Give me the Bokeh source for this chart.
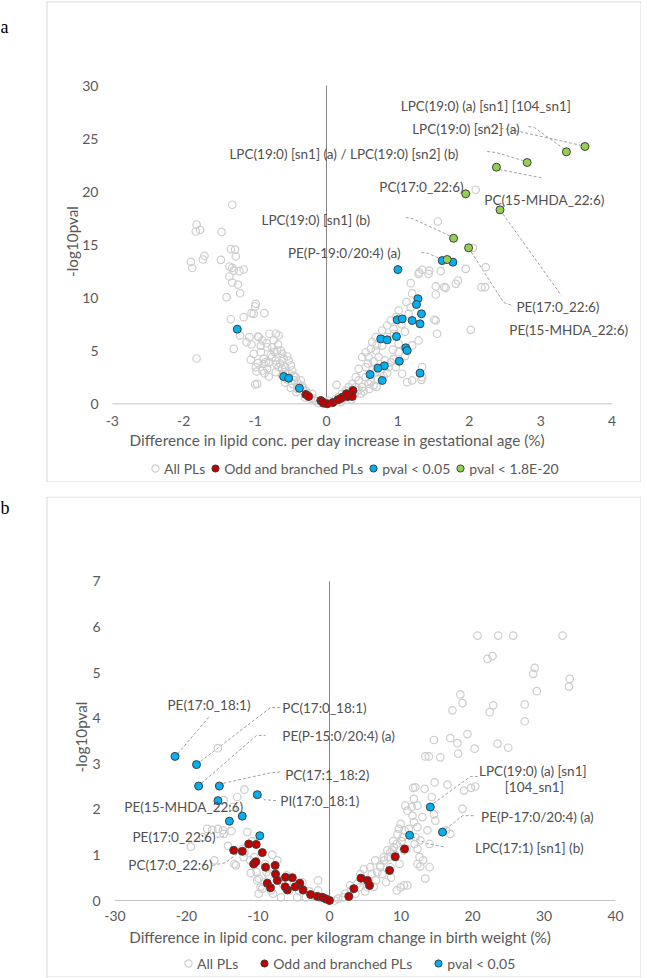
from bokeh.plotting import figure
from bokeh.models import (Range1d, FixedTicker, Legend, LegendItem, Spacer, Label,
                          BoxAnnotation, CustomJSTickFormatter)
from bokeh.layouts import column
from bokeh.core.properties import value
from bokeh.embed import file_html
from bokeh.resources import INLINE

FONT = "Lato"
TXT = "#595959"
LAB_TXT = "#505050"
GRAY_PT = "#cdcdcd"
EDGE = "#404040"
RED = "#c00000"
BLUE = "#00b0f0"
GREEN = "#92d050"
BOX = "#7f7f7f"

# ---------------- panel a ----------------
a_x_ticks = [-3, -2, -1, 0, 1, 2, 3, 4]
a_y_ticks = [0, 5, 10, 15, 20, 25, 30]
a_x_title = "Difference in lipid conc. per day increase in gestational age (%)"
a_series = ["All PLs", "Odd and branched PLs", "pval < 0.05", "pval < 1.8E-20"]

a_all = [
    (-1.32, 18.76), (-1.82, 16.90), (-1.83, 16.24), (-1.77, 16.40), (-1.47, 16.20), (-1.34, 14.57),
    (-1.28, 14.54), (-1.27, 13.88), (-1.71, 13.95), (-1.73, 13.60), (-1.90, 13.38), (-1.88, 12.80),
    (-1.48, 13.57), (-1.36, 12.94), (-1.32, 12.82), (-1.30, 12.56), (-1.22, 12.50), (-1.16, 12.66),
    (-1.36, 12.00), (-1.32, 11.43), (-1.24, 11.24), (-1.21, 10.42), (-1.40, 10.05), (-1.00, 9.17),
    (-1.05, 8.54), (-1.02, 8.48), (-0.87, 8.54), (-1.16, 8.16), (-1.34, 7.97), (-1.21, 6.44),
    (-1.08, 6.28), (-1.12, 5.81), (-1.05, 5.59), (-0.96, 6.34), (-0.90, 5.97), (-0.84, 5.71),
    (-0.80, 6.60), (-1.30, 5.18), (-1.82, 4.27), (-1.02, 4.71), (-1.06, 4.15), (-0.92, 4.86),
    (-0.88, 4.24), (-0.96, 3.83), (-0.88, 3.77), (-0.83, 3.30), (-0.98, 3.04), (-0.87, 2.89),
    (-1.00, 1.82), (-0.81, 3.89), (-0.99, 9.42), (-0.95, 6.28), (-0.71, 6.60), (-0.67, 6.44),
    (-0.92, 5.49), (-0.83, 5.33), (-0.76, 5.33), (-0.69, 5.02), (-0.64, 5.02), (-0.62, 4.71),
    (-0.55, 4.46), (-0.76, 4.39), (-0.85, 3.92), (-0.71, 4.08), (-0.60, 4.24), (-0.53, 4.08),
    (-0.67, 3.45), (-0.58, 3.45), (-0.50, 3.61), (-0.48, 3.14), (-0.71, 2.98), (-0.62, 2.67),
    (-0.43, 2.51), (-0.36, 2.20), (-0.48, 1.88), (-0.34, 1.72), (-0.41, 1.41), (-0.29, 1.25),
    (-0.20, 0.94), (-0.22, 0.47), (-0.15, 0.25), (-0.11, 0.06), (-0.99, 3.45), (-0.90, 3.14),
    (-0.81, 2.57), (-0.97, 1.88), (-0.65, 3.80), (-0.58, 3.00), (-0.52, 2.80), (-0.45, 2.20),
    (-0.40, 1.90), (-0.33, 1.50), (-0.27, 1.00), (-0.25, 0.70), (-0.18, 0.50), (-0.08, 0.30),
    (-0.05, 0.10), (-0.55, 2.30), (-0.62, 3.30), (-0.70, 3.70), (-0.78, 4.60), (-0.73, 4.90),
    (-0.68, 5.60), (-0.74, 6.00), (-0.58, 2.00), (-0.50, 1.50), (-0.42, 1.10), (-0.30, 0.60),
    (-0.46, 2.65), (-0.38, 1.60),
    (1.18, 11.37), (1.53, 11.06), (1.67, 10.93), (1.81, 11.31), (1.29, 12.25), (1.43, 12.25),
    (1.01, 8.79), (0.90, 7.85), (0.85, 7.38), (0.78, 6.91), (0.69, 6.28), (0.64, 5.81),
    (0.62, 5.18), (0.55, 4.86), (0.50, 4.39), (0.59, 4.39), (0.69, 5.02), (0.78, 5.49),
    (0.94, 7.07), (1.15, 8.48), (1.29, 5.97), (1.53, 7.85), (1.55, 6.60), (1.01, 5.65),
    (1.01, 4.86), (0.94, 4.24), (0.97, 3.45), (0.87, 3.45), (0.69, 2.98), (0.55, 3.45),
    (0.45, 3.30), (0.41, 2.51), (0.45, 2.20), (0.55, 2.51), (0.36, 1.88), (0.41, 1.57),
    (0.31, 1.57), (0.27, 1.25), (0.22, 0.94), (0.17, 0.63), (0.13, 0.47), (0.50, 1.57),
    (0.59, 1.88), (0.66, 1.72), (1.06, 2.83), (1.20, 2.20), (1.34, 2.51), (0.20, 0.15),
    (0.10, 0.15), (0.14, 1.79), (2.09, 20.17), (1.56, 17.18), (1.95, 12.72), (2.23, 12.88),
    (1.34, 12.63), (1.60, 12.50), (2.05, 14.70), (1.30, 12.40), (1.44, 12.56), (1.53, 10.30),
    (1.65, 10.99), (1.84, 11.62), (2.17, 10.99), (2.22, 10.99), (2.02, 6.97), (1.51, 7.92),
    (1.18, 9.10), (1.13, 2.04), (1.33, 2.26), (1.34, 3.45), (0.35, 1.20), (0.40, 0.90),
    (0.30, 0.80), (0.25, 0.50), (0.45, 1.30), (0.48, 0.95), (0.52, 1.20), (0.60, 1.40),
    (0.70, 1.60), (0.62, 2.10), (0.72, 2.30), (0.80, 2.60), (0.75, 3.00), (0.65, 3.20),
    (0.85, 2.90), (0.90, 3.90), (0.82, 4.10), (0.73, 4.40), (0.66, 4.00), (0.58, 3.80),
    (0.70, 5.50), (0.85, 6.30), (0.95, 6.60), (1.10, 6.80), (1.05, 7.50), (0.98, 8.20),
    (1.12, 9.60), (1.20, 10.40), (0.93, 5.10), (1.10, 4.50), (1.20, 5.50), (0.35, 0.40),
    (0.06, 0.05), (0.03, 0.30), (-0.02, 0.15),
]
a_odd = [
    (-0.29, 0.88), (-0.25, 0.69), (-0.08, 0.31), (-0.04, 0.06), (0.01, 0.00), (0.09, 0.12),
    (0.16, 0.37), (0.23, 0.63), (0.30, 0.69), (0.34, 0.88), (0.37, 1.25), (0.36, 0.69),
    (0.20, 0.50), (0.28, 0.95), (-0.06, 0.20),
]
a_sig = [
    (1.62, 13.50), (1.77, 13.35), (1.00, 12.65), (1.28, 9.90), (1.26, 9.36), (1.33, 8.48),
    (0.99, 7.92), (1.06, 8.00), (1.20, 7.85), (1.31, 7.54), (0.76, 6.12), (0.85, 6.03),
    (0.98, 6.34), (1.11, 5.28), (1.13, 5.02), (1.02, 4.01), (0.81, 3.58), (0.72, 3.36),
    (0.61, 2.76), (1.31, 2.89), (0.78, 2.20), (-0.60, 2.57), (-0.53, 2.41), (-0.38, 1.47),
    (-1.25, 7.03),
]
a_top = [
    (3.62, 24.25), (3.36, 23.75), (2.81, 22.74), (2.38, 22.30), (1.95, 19.79), (2.43, 18.28),
    (1.78, 15.60), (1.99, 14.70), (1.69, 13.60),
]
a_lab_text = ["LPC(19:0) (a) [sn1] [104_sn1]", "LPC(19:0) [sn2] (a)",
              "LPC(19:0) [sn1] (a) / LPC(19:0) [sn2] (b)", "PC(17:0_22:6)", "PC(15-MHDA_22:6)",
              "LPC(19:0) [sn1] (b)", "PE(P-19:0/20:4) (a)", "PE(17:0_22:6)", "PE(15-MHDA_22:6)"]
a_lab_x = [1.04, 1.20, -1.36, 0.74, 2.21, -0.91, -0.54, 2.66, 2.56]
a_lab_y = [28.11, 25.92, 23.56, 20.41, 19.23, 17.28, 14.19, 9.17, 6.91]
a_lead_xs = [[2.83, 2.91, 3.32], [2.23, 2.61, 3.57], [2.25, 2.37, 2.75], [2.42, 3.01],
             [1.11, 1.20, 1.75], [1.33, 1.43, 1.61], [1.99, 2.48, 2.60], [2.43, 3.29]]
a_lead_ys = [[26.14, 26.04, 24.06], [26.18, 25.80, 24.35], [23.78, 23.69, 22.93], [22.08, 21.30],
             [17.56, 17.46, 15.76], [14.26, 14.17, 13.60], [14.70, 9.55, 9.26], [18.28, 10.21]]

# ---------------- panel b ----------------
b_x_ticks = [-30, -20, -10, 0, 10, 20, 30, 40]
b_y_ticks = [0, 1, 2, 3, 4, 5, 6, 7]
b_x_title = "Difference in lipid conc. per kilogram change in birth weight (%)"
b_series = ["All PLs", "Odd and branched PLs", "pval < 0.05"]

b_all = [
    (20.7, 5.81), (23.6, 5.81), (25.7, 5.81), (32.6, 5.81), (22.1, 5.30), (22.8, 5.36),
    (28.7, 5.10), (28.5, 4.97), (33.6, 4.86), (33.5, 4.69), (29.0, 4.59), (27.3, 4.30),
    (27.3, 3.93), (18.3, 4.52), (18.6, 4.33), (17.2, 4.17), (22.9, 4.28), (22.4, 4.13),
    (14.6, 3.52), (16.9, 3.56), (17.9, 3.45), (19.3, 3.65), (20.3, 3.33), (18.0, 3.22),
    (13.4, 3.16), (13.9, 3.16), (15.5, 3.14), (23.5, 3.44), (25.0, 3.35), (11.7, 2.47),
    (13.3, 2.45), (14.7, 2.59), (16.5, 2.54), (19.8, 2.47), (20.4, 2.50), (18.8, 2.41),
    (12.0, 2.48), (11.5, 2.05), (14.3, 2.27), (14.6, 1.89), (16.3, 1.54), (16.9, 1.46),
    (18.6, 2.01), (9.96, 1.68), (9.7, 1.57), (10.5, 1.54), (10.25, 1.39), (9.4, 1.24),
    (10.8, 1.13), (12.0, 1.39), (12.3, 1.13), (14.0, 1.24), (13.7, 1.54), (12.6, 0.95),
    (13.1, 0.88), (14.0, 0.73), (13.4, 0.48), (9.4, 0.22), (9.96, 0.29), (10.6, 2.08),
    (11.8, 2.23), (12.3, 2.08), (10.9, 1.97), (11.6, 1.86), (11.8, 1.72), (12.3, 1.61),
    (11.1, 1.57), (13.0, 1.83), (14.8, 1.75), (12.7, 1.32), (11.9, 1.24), (10.4, 1.10),
    (8.5, 1.06), (9.0, 1.17), (8.1, 1.10), (7.6, 0.95), (6.4, 0.88), (7.1, 0.77),
    (5.7, 0.73), (6.7, 0.62), (4.8, 0.69), (4.3, 0.58), (3.9, 0.37), (2.9, 0.33),
    (12.3, 0.80), (12.7, 0.75), (10.4, 0.33), (10.9, 0.33), (0.73, 0.00), (1.9, 0.07),
    (3.0, 0.22), (4.2, 0.29), (4.8, 0.44), (5.9, 0.58), (7.1, 0.73), (7.65, 0.88),
    (8.2, 0.95), (8.8, 1.10), (3.6, 0.15), (5.3, 0.29), (6.5, 0.44), (7.4, 0.58),
    (8.5, 0.73), (9.1, 0.95), (9.5, 1.45), (10.1, 1.30), (8.9, 1.30), (9.2, 1.00),
    (9.8, 0.80), (8.6, 0.50), (7.9, 0.40), (6.2, 0.30), (5.0, 0.20), (2.2, 0.15),
    (1.2, 0.04),
    (-15.6, 3.34), (-11.9, 2.43), (-12.9, 2.27), (-17.1, 1.57), (-16.4, 1.55), (-15.6, 1.57),
    (-14.9, 1.54), (-19.4, 1.18), (-16.1, 0.88), (-14.8, 1.46), (-13.3, 0.80), (-12.2, 1.13),
    (-11.9, 1.06), (-10.1, 0.44), (-9.4, 0.26), (-9.9, 0.15), (-17.7, 1.39), (-13.7, 1.52),
    (-13.1, 0.77), (-11.5, 1.50), (-12.0, 0.95), (-11.1, 0.88), (-10.5, 0.95), (-9.9, 0.48),
    (-9.1, 0.40), (-9.65, 0.29), (-8.2, 0.22), (-7.9, 0.15), (-6.8, 0.07), (-5.6, 0.22),
    (-4.5, 0.07), (-3.3, 0.07), (-1.6, 0.44), (-1.6, 0.22), (-10.2, 0.62), (-8.8, 0.62),
    (-7.9, 0.73), (-7.3, 0.88), (-8.5, 0.55), (-7.0, 0.45), (-6.5, 0.35), (-6.0, 0.55),
    (-5.0, 0.35), (-4.2, 0.20), (-3.8, 0.40), (-2.8, 0.20), (-2.2, 0.10), (-1.2, 0.05),
    (-0.5, 0.02), (-11.0, 0.60), (-10.8, 1.30), (-9.0, 0.80), (-8.0, 1.00), (-14.2, 1.20),
    (-13.5, 2.05), (-14.8, 2.20),
]
b_odd = [
    (-13.4, 1.10), (-12.2, 1.08), (-11.3, 1.24), (-10.25, 1.23), (-9.4, 1.05), (-10.6, 0.80),
    (-10.3, 0.85), (-8.95, 0.73), (-7.6, 0.77), (-7.55, 0.58), (-8.7, 0.38), (-8.25, 0.28),
    (-7.3, 0.44), (-6.15, 0.51), (-5.9, 0.23), (-5.2, 0.50), (-4.15, 0.38), (-3.7, 0.23),
    (-2.65, 0.13), (-1.7, 0.09), (-1.0, 0.07), (-0.55, 0.04), (0.0, 0.00), (-6.2, 0.30),
    (-4.8, 0.30), (2.7, 0.09), (3.4, 0.26), (4.4, 0.49), (5.3, 0.44), (5.6, 0.33),
    (8.4, 0.66), (9.2, 0.96), (10.5, 1.13),
]
b_sig = [
    (-21.6, 3.16), (-18.6, 2.98), (-18.3, 2.51), (-15.4, 2.51), (-10.1, 2.32), (-15.6, 2.19),
    (-12.2, 1.85), (-14.0, 1.74), (-9.75, 1.42), (14.1, 2.05), (15.8, 1.50), (11.2, 1.43),
]
b_lab_text = ["PE(17:0_18:1)", "PC(17:0_18:1)", "PE(P-15:0/20:4) (a)", "PC(17:1_18:2)",
              "PI(17:0_18:1)", "PE(15-MHDA_22:6)", "PE(17:0_22:6)", "PC(17:0_22:6)",
              "LPC(19:0) (a) [sn1]", "[104_sn1]", "PE(P-17:0/20:4) (a)", "LPC(17:1) [sn1] (b)"]
b_lab_x = [-22.66, -6.6, -6.6, -6.2, -6.88, -28.7, -27.55, -28.13, 20.92, 24.5, 21.2, 20.35]
b_lab_y = [4.28, 4.22, 3.60, 2.76, 2.19, 2.05, 1.39, 0.77, 2.85, 2.48, 1.83, 1.16]
b_lead_xs = [[-16.89, -21.22], [-18.04, -8.25, -6.85], [-17.9, -10.2, -8.95], [-14.83, -8.25, -6.85],
             [-9.79, -9.09, -7.41], [-15.8, -14.97, -13.7], [-16.36, -14.55, -9.93],
             [14.55, 19.72, 20.84], [16.22, 18.6, 20.42], [11.6, 13.57, 16.22]]
b_lead_ys = [[4.02, 3.22], [3.05, 4.23, 4.23], [2.57, 3.62, 3.62], [2.57, 2.80, 2.82],
             [2.30, 2.21, 2.19], [1.39, 1.39, 1.69], [0.77, 0.83, 1.38],
             [2.13, 2.72, 2.72], [1.56, 1.86, 1.86], [1.40, 1.25, 1.17]]

panel_letters = ["a", "b"]


def xs(pts):
    return [p[0] for p in pts]


def ys(pts):
    return [p[1] for p in pts]


def make_panel(W, H, top, px0, kx, py0, ky, x_ticks, y_ticks, x_title, names, groups,
               lab_text, lab_x, lab_y, lead_xs, lead_ys, lay):
    """lay: page-pixel layout of the decorations (axes positions, titles, legend, box, letter)."""
    def dx(px):
        return (px - px0) / kx

    def dy(py):
        return (py0 - py) / ky

    p = figure(width=W, height=H, x_range=Range1d(dx(0), dx(W)), y_range=Range1d(dy(top + H), dy(top)),
               output_backend="svg", toolbar_location=None, title=None, min_border=0)
    p.outline_line_color = None
    p.grid.visible = False

    fmt = CustomJSTickFormatter(code="return tick.toString();")
    for ax in (p.xaxis[0], p.yaxis[0]):
        ax.axis_line_color = None
        ax.major_tick_line_color = None
        ax.minor_tick_line_color = None
        ax.major_tick_out = 0
        ax.major_tick_in = 0
        ax.major_label_text_font = FONT
        ax.major_label_text_font_size = "14px"
        ax.major_label_text_color = TXT
        ax.formatter = fmt
    p.xaxis.ticker = FixedTicker(ticks=x_ticks)
    p.yaxis.ticker = FixedTicker(ticks=y_ticks)
    p.xaxis.fixed_location = dy(lay["xaxis_py"])
    p.yaxis.fixed_location = dx(lay["yaxis_px"])
    p.xaxis.major_label_standoff = 3
    p.yaxis.major_label_standoff = 4
    p.yaxis.axis_label = "-log10pval"
    p.yaxis.axis_label_text_font = FONT
    p.yaxis.axis_label_text_font_size = "15.3px"
    p.yaxis.axis_label_text_font_style = "normal"
    p.yaxis.axis_label_text_color = TXT
    p.yaxis.axis_label_standoff = lay["ylab_standoff"]

    p.segment(x0=[x_ticks[0]], y0=[0], x1=[x_ticks[-1]], y1=[0], line_color="#c4c4c4", line_width=1)
    p.segment(x0=[0], y0=[0], x1=[0], y1=[y_ticks[-1]], line_color="#858585", line_width=1)
    p.multi_line(xs=lead_xs, ys=lead_ys, line_color="#a0a0a0", line_width=1, line_dash="3 2")

    rends = [p.scatter(xs(groups[0]), ys(groups[0]), size=7.5, marker="circle", fill_color=None,
                       line_color=GRAY_PT, line_width=1.2)]
    for pts, col in zip(groups[1:], [RED, BLUE, GREEN]):
        rends.append(p.scatter(xs(pts), ys(pts), size=8, marker="circle", fill_color=col,
                               line_color=EDGE, line_width=1))

    p.text(x=lab_x, y=lab_y, text=lab_text, text_font=value(FONT), text_font_size=value("13.5px"),
           text_color=LAB_TXT, text_align="left", text_baseline="middle")

    p.add_layout(Label(x=dx(lay["title_px"]), y=dy(lay["title_py"]), text=x_title,
                       text_font=FONT, text_font_size="15.3px", text_color=TXT,
                       text_align="left", text_baseline="middle"))

    leg = Legend(items=[LegendItem(label=n, renderers=[r]) for n, r in zip(names, rends)],
                 orientation="horizontal", location=(lay["leg_vx"], lay["leg_vy"]),
                 label_text_font=FONT, label_text_font_size="14px", label_text_color=TXT,
                 glyph_width=18, glyph_height=18, label_height=18,
                 label_standoff=0, spacing=lay["leg_spacing"],
                 padding=0, margin=0, border_line_color=None, background_fill_alpha=0)
    p.add_layout(leg, "center")

    bl, br, bt, bb = lay["box"]
    p.add_layout(BoxAnnotation(left=dx(bl), right=dx(br), top=dy(bt), bottom=dy(bb),
                               fill_alpha=0, line_color=BOX, line_width=1, level="overlay"))

    lx, ly = lay["letter"]
    p.add_layout(Label(x=dx(lx), y=dy(ly), text=lay["letter_text"], text_font="Liberation Serif",
                       text_font_size="18px", text_color="#000000", text_baseline="alphabetic",
                       text_align="left"))
    return p


lay_a = dict(xaxis_py=412, yaxis_px=102, ylab_standoff=-2, title_px=129, title_py=439,
             leg_vx=146, leg_vy=5, leg_spacing=1,
             box=(46.5, 640.5, 1.5, 481.5), letter=(0, 26.5), letter_text=panel_letters[0])
lay_b = dict(xaxis_py=907, yaxis_px=104, ylab_standoff=-1, title_px=128.7, title_py=936,
             leg_vx=179, leg_vy=5, leg_spacing=17,
             box=(46.5, 640.5, 496.5, 976.5), letter=(0, 507), letter_text=panel_letters[1])

pa = make_panel(641, 482, 0, 326, 71.4, 403.3, 10.61, a_x_ticks, a_y_ticks, a_x_title, a_series,
                [a_all, a_odd, a_sig, a_top], a_lab_text, a_lab_x, a_lab_y, a_lead_xs, a_lead_ys, lay_a)
pb = make_panel(641, 481, 496, 329, 7.15, 900, 45.6, b_x_ticks, b_y_ticks, b_x_title, b_series,
                [b_all, b_odd, b_sig], b_lab_text, b_lab_x, b_lab_y, b_lead_xs, b_lead_ys, lay_b)

layout = column(pa, Spacer(height=14), pb)

open("out.html", "w").write(file_html(layout, INLINE))
